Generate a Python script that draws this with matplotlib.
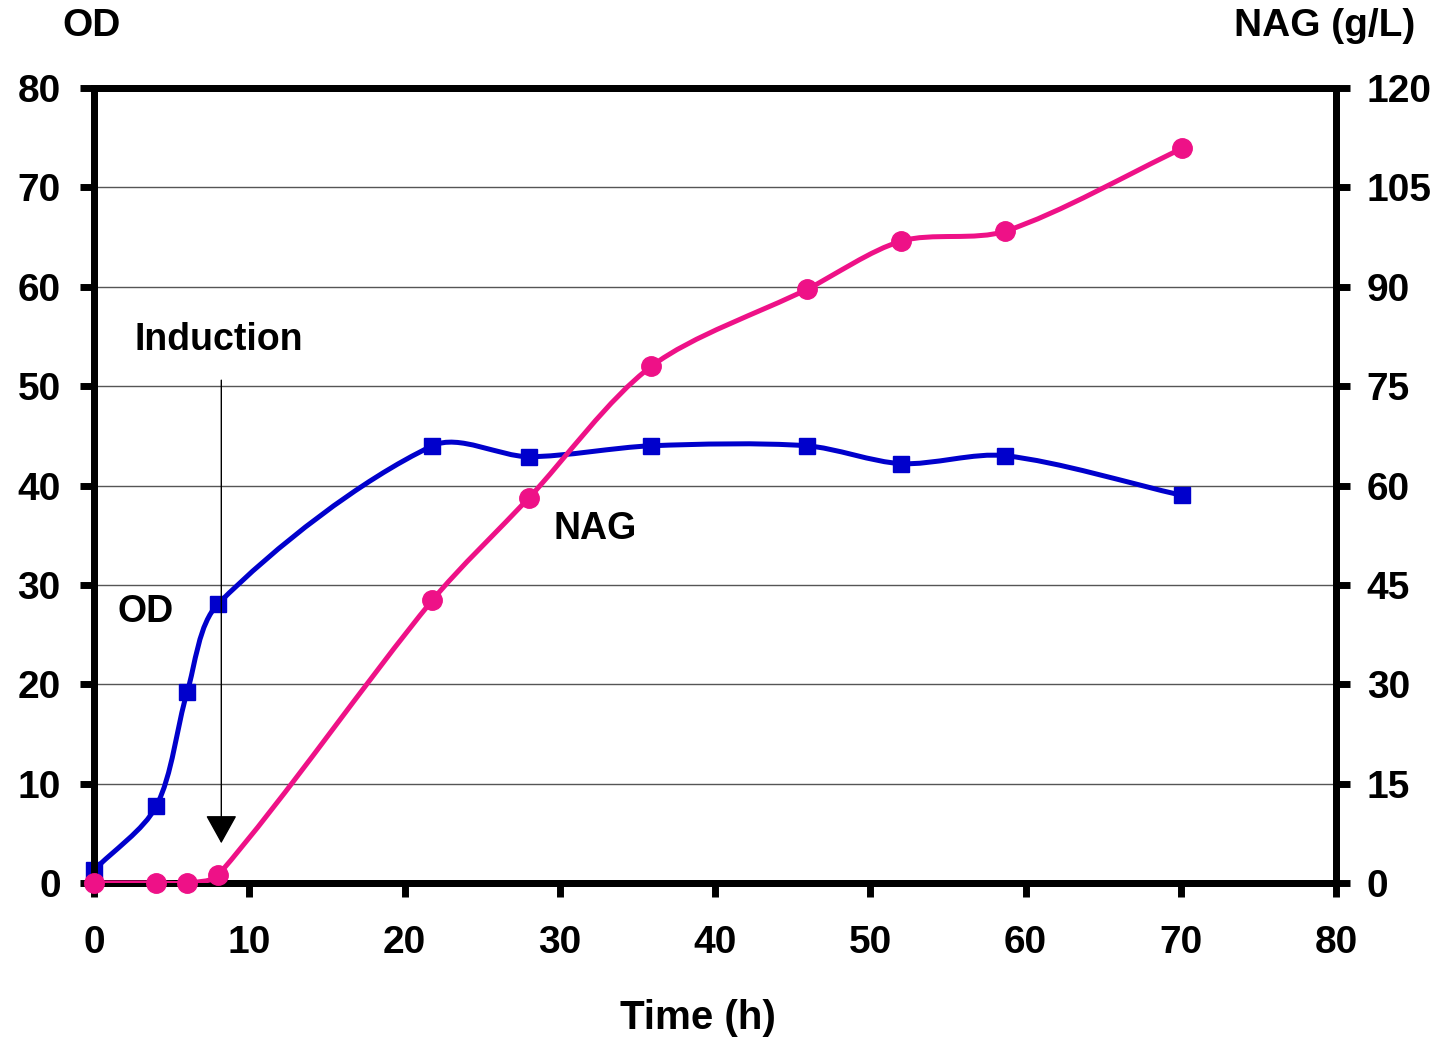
import numpy as np
import matplotlib
matplotlib.use("Agg")
import matplotlib.pyplot as plt
from matplotlib.path import Path
from matplotlib.patches import PathPatch

plt.rcParams["font.family"] = ["Liberation Sans", "DejaVu Sans"]
plt.rcParams["font.weight"] = "bold"

# ---- data ----
od_time = [0, 4, 6, 8, 21.8, 28, 35.9, 45.9, 52, 58.7, 70.1]
od_vals = [1.3, 7.7, 19.2, 28.1, 44.0, 42.9, 44.0, 44.0, 42.2, 43.0, 39.0]

nag_time = [0, 4, 6, 8, 21.8, 28, 35.9, 45.9, 52, 58.7, 70.1]
nag_vals = [0, 0, 0, 1.2, 42.7, 58.1, 78.0, 89.6, 96.9, 98.4, 110.9]

OD_COLOR = "#0000CC"
NAG_COLOR = "#EE1187"


def smooth_path(ax, xs, ys, k=0.3):
    """Excel-like smoothed line: cubic Bezier through points, built in pixel space."""
    to_px = ax.transData
    pts = to_px.transform(np.column_stack([xs, ys]))
    n = len(pts)
    verts = [pts[0]]
    codes = [Path.MOVETO]

    def tangent(i):
        a = pts[max(i - 1, 0)]
        b = pts[min(i + 1, n - 1)]
        d = b - a
        nrm = np.hypot(*d)
        return d / nrm if nrm > 0 else d

    for i in range(n - 1):
        p1, p2 = pts[i], pts[i + 1]
        seg = np.hypot(*(p2 - p1))
        c1 = p1 + tangent(i) * seg * k
        c2 = p2 - tangent(i + 1) * seg * k
        verts += [c1, c2, p2]
        codes += [Path.CURVE4] * 3
    data_verts = to_px.inverted().transform(np.array(verts))
    return Path(data_verts, codes)


fig = plt.figure(figsize=(14.46, 10.42), dpi=100)
fig.subplots_adjust(left=0.065, right=0.924, top=0.9155, bottom=0.1526)
ax = fig.add_subplot(111)
ax2 = ax.twinx()

ax.set_xlim(0, 80)
ax.set_ylim(0, 80)
ax2.set_ylim(0, 120)
ax.set_xticks(np.arange(0, 81, 10))
ax.set_yticks(np.arange(0, 81, 10))
ax2.set_yticks(np.arange(0, 121, 15))

ax.yaxis.grid(True, color="#555555", linewidth=1.0)
ax.set_axisbelow(True)

for a in (ax, ax2):
    for s in a.spines.values():
        s.set_linewidth(5)
        s.set_color("black")

ax.tick_params(axis="both", direction="out", length=10, width=5,
               labelsize=28)
ax.tick_params(axis="y", pad=14)
ax.tick_params(axis="x", pad=20)
ax2.tick_params(axis="y", direction="out", length=10, width=5,
                labelsize=28, pad=12)
for lab in ax.get_xticklabels() + ax.get_yticklabels() + ax2.get_yticklabels():
    lab.set_fontweight("bold")

# ---- curves ----
ax.add_patch(PathPatch(smooth_path(ax, od_time, od_vals), fill=False,
                       edgecolor=OD_COLOR, linewidth=3.6, zorder=3,
                       capstyle="round", joinstyle="round"))
ax.plot(od_time, od_vals, linestyle="none", marker="s", markersize=11,
        color=OD_COLOR, zorder=4, clip_on=False)

ax2.add_patch(PathPatch(smooth_path(ax2, nag_time, nag_vals), fill=False,
                        edgecolor=NAG_COLOR, linewidth=3.6, zorder=3,
                        capstyle="round", joinstyle="round"))
ax2.plot(nag_time, nag_vals, linestyle="none", marker="o", markersize=14,
         color=NAG_COLOR, zorder=4, clip_on=False)

# ---- labels and annotations ----
ax.set_xlabel("Time (h)", fontsize=29, fontweight="bold")
ax.xaxis.label.set_verticalalignment("center")
ax.xaxis.set_label_coords(0.486, -0.17)
fig.text(0.063, 0.975, "OD", fontsize=28, fontweight="bold",
         ha="center", va="center")
fig.text(0.916, 0.975, "NAG (g/L)", fontsize=28, fontweight="bold",
         ha="center", va="center")

ax.text(3.3, 27.3, "OD", fontsize=27, fontweight="bold", ha="center", va="center")
ax.text(32.3, 35.6, "NAG", fontsize=27, fontweight="bold", ha="center", va="center")
ax.text(2.6, 54.6, "Induction", fontsize=27, fontweight="bold", ha="left", va="center")

ax.annotate("", xy=(8.2, 4.0), xytext=(8.2, 50.6),
            arrowprops=dict(arrowstyle="-|>,head_length=1.8,head_width=1.0",
                            color="black", linewidth=1.0, shrinkA=0, shrinkB=0),
            zorder=5)

fig.savefig("out.png", dpi=100)
